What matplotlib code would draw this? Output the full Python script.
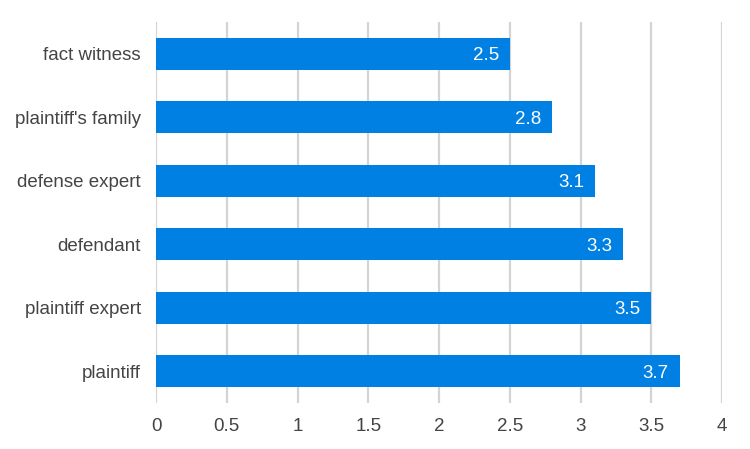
import matplotlib
matplotlib.use("Agg")
import matplotlib.pyplot as plt

categories = ["fact witness", "plaintiff's family", "defense expert", "defendant", "plaintiff expert", "plaintiff"]
values = [2.5, 2.8, 3.1, 3.3, 3.5, 3.7]
xticks = [0, 0.5, 1, 1.5, 2, 2.5, 3, 3.5, 4]
xticklabels = ["0", "0.5", "1", "1.5", "2", "2.5", "3", "3.5", "4"]

plt.rcParams['font.family'] = ['Liberation Sans', 'DejaVu Sans']

fig = plt.figure(figsize=(7.5, 4.49), dpi=100)
ax = fig.add_axes([156/750, 1-403/449, (722-156)/750, (403-22)/449])

ypos = list(range(len(categories)))
ax.barh(ypos, values, height=0.5, color="#0080E2", zorder=3)
for y, v in zip(ypos, values):
    ax.text(v - 0.075, y, f"{v}", ha="right", va="center_baseline", color="white", fontsize=13.5, zorder=4)

ax.set_xlim(0, 4)
ax.set_ylim(len(categories) - 0.5, -0.5)
ax.set_xticks(xticks)
ax.set_xticklabels(xticklabels)
ax.set_yticks(ypos)
ax.set_yticklabels(categories)
ax.tick_params(axis='both', length=0, labelsize=13.5, colors="#444444")
ax.tick_params(axis='x', pad=11)
ax.tick_params(axis='y', pad=11)
ax.grid(axis='x', color="#d4d4d4", linewidth=1.6, zorder=0)
for s in ax.spines.values():
    s.set_visible(False)

fig.savefig("out.png", dpi=100)
